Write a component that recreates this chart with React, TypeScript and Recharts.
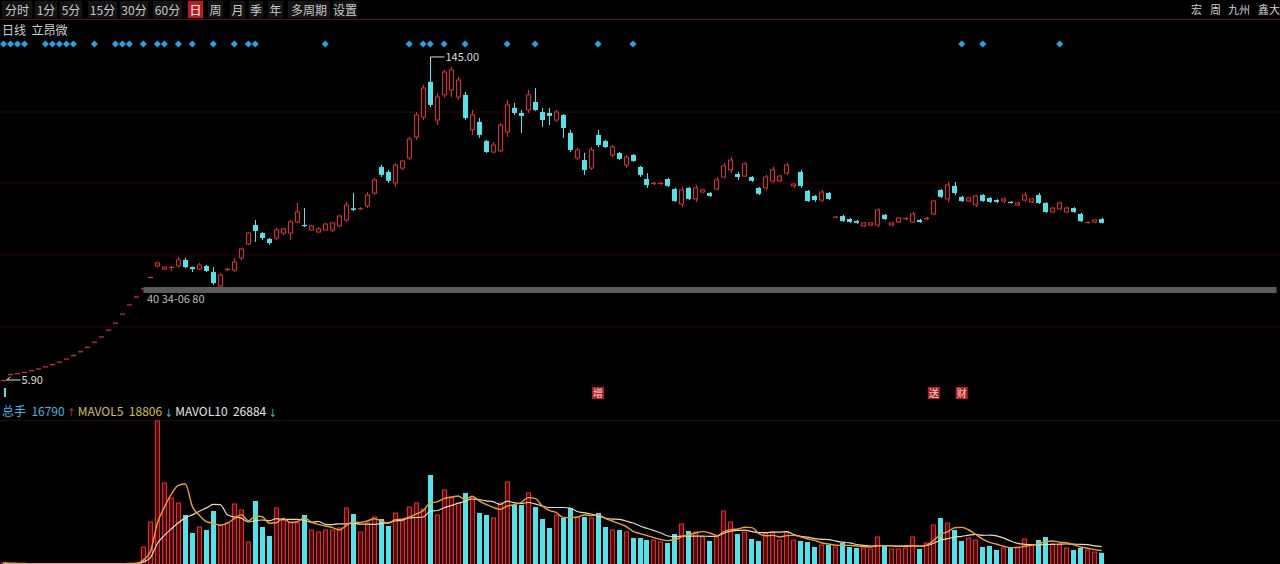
import React from 'react';
import { ComposedChart, Bar, Line, XAxis, YAxis, CartesianGrid, ReferenceLine } from 'recharts';

// one-price limit-up days before the board first opened
const limitUpRun = [
  5.90, 8.50, 8.90, 9.50, 10.20, 11.00, 11.90, 12.90, 14.00, 15.30,
  16.80, 18.50, 20.50, 22.70, 25.00, 28.00, 31.00, 35.00, 39.00, 42.50,
  46.00, 51.00,
];

// regular trading days
const openPx = [
  55.8, 54.4, 55.0, 55.8, 58.4, 55.3, 54.4, 55.8, 53.1, 47.0,
  54.0, 54.0, 59.3, 65.4, 73.7, 70.2, 67.6, 68.0, 70.2, 70.2,
  75.0, 73.7, 71.5, 70.6, 71.5, 71.5, 73.3, 75.9, 81.0, 80.6,
  82.0, 87.7, 99.1, 96.9, 92.1, 98.6, 103.0, 112.2, 120.9, 136.3,
  119.6, 130.6, 132.8, 129.7, 130.6, 115.3, 118.8, 110.4, 105.6, 106.1,
  114.4, 124.9, 122.7, 124.0, 127.5, 123.1, 122.7, 119.6, 121.8, 114.0,
  103.0, 102.1, 98.6, 113.1, 110.4, 104.3, 105.2, 99.9, 104.3, 99.1,
  93.8, 91.6, 91.6, 93.8, 89.4, 82.9, 89.9, 85.1, 88.1, 87.7,
  89.4, 94.7, 97.8, 96.0, 95.1, 94.7, 89.9, 89.9, 92.9, 93.0,
  96.4, 90.8, 96.9, 88.6, 86.4, 84.6, 87.7, 77.0, 77.6, 76.3,
  75.4, 73.3, 73.7, 73.7, 78.1, 73.7, 75.0, 76.3, 75.0, 75.9,
  76.3, 78.5, 89.0, 85.1, 90.8, 86.0, 84.2, 82.5, 86.8, 85.5,
  84.6, 84.2, 83.8, 82.4, 84.6, 83.8, 86.8, 83.3, 79.4, 80.7,
  79.4, 81.1, 78.5, 74.6, 75.0, 76.3,
];
const highPx = [
  57.6, 55.5, 55.8, 59.7, 59.3, 55.5, 57.1, 56.2, 55.3, 52.7,
  55.0, 59.3, 63.6, 70.6, 75.9, 70.6, 68.0, 72.4, 72.4, 75.9,
  83.3, 81.1, 73.7, 72.8, 74.6, 75.0, 78.1, 83.8, 87.7, 81.5,
  88.1, 94.3, 100.0, 97.8, 100.8, 102.1, 112.2, 123.1, 134.9, 145.0,
  131.4, 141.5, 142.8, 138.4, 131.9, 124.0, 120.5, 110.9, 110.0, 118.3,
  128.4, 127.1, 124.0, 132.8, 133.6, 124.9, 124.9, 124.0, 122.2, 115.3,
  107.4, 105.2, 107.8, 115.3, 110.9, 108.7, 105.6, 104.3, 104.7, 99.5,
  96.4, 92.5, 92.5, 94.3, 89.9, 90.3, 90.3, 91.2, 89.4, 88.1,
  94.7, 100.8, 103.4, 96.9, 101.3, 95.1, 90.3, 95.6, 99.1, 95.6,
  100.8, 92.0, 97.8, 89.0, 86.8, 89.0, 88.1, 77.6, 78.1, 76.8,
  75.9, 74.9, 75.0, 81.1, 78.5, 75.0, 77.2, 77.2, 79.4, 76.3,
  77.2, 84.6, 89.4, 92.5, 92.5, 86.4, 85.9, 86.8, 87.2, 85.9,
  85.0, 85.5, 84.2, 83.8, 88.1, 85.5, 87.7, 83.7, 81.6, 83.8,
  81.6, 81.5, 79.0, 75.2, 76.1, 76.8,
];
const lowPx = [
  55.3, 54.0, 53.6, 55.0, 54.8, 53.1, 54.0, 53.1, 47.5, 46.6,
  53.6, 53.1, 58.4, 65.0, 66.3, 67.1, 65.0, 67.1, 69.3, 67.1,
  74.6, 72.8, 71.5, 70.6, 71.5, 70.6, 72.8, 75.0, 79.8, 80.3,
  81.1, 86.8, 94.7, 92.1, 90.3, 97.8, 102.1, 110.9, 119.6, 125.3,
  117.4, 129.3, 129.7, 128.4, 119.6, 113.1, 111.8, 105.2, 105.2, 105.6,
  112.2, 121.8, 113.9, 122.7, 123.6, 116.6, 117.4, 118.8, 111.8, 105.6,
  102.1, 95.6, 97.8, 107.8, 107.4, 103.4, 102.1, 98.6, 101.3, 94.7,
  89.9, 91.2, 91.2, 90.3, 83.8, 81.6, 84.6, 83.8, 87.7, 85.9,
  89.0, 94.3, 96.4, 93.4, 94.7, 92.5, 86.8, 89.0, 92.1, 92.5,
  95.6, 89.9, 89.9, 83.8, 83.8, 83.8, 84.6, 76.8, 75.0, 74.6,
  74.2, 72.8, 73.3, 72.8, 75.9, 73.3, 74.6, 75.9, 74.6, 74.6,
  75.9, 78.1, 85.5, 83.8, 86.8, 83.8, 83.8, 81.6, 83.8, 83.3,
  83.3, 83.3, 83.1, 82.0, 83.8, 83.3, 82.9, 79.0, 79.0, 80.3,
  79.0, 79.0, 75.0, 74.4, 74.6, 74.4,
];
const closePx = [
  57.1, 55.3, 55.4, 58.4, 55.3, 54.4, 56.2, 53.6, 48.3, 51.8,
  54.5, 57.5, 63.2, 70.2, 71.1, 68.0, 65.8, 71.5, 72.0, 75.0,
  79.4, 73.3, 73.3, 72.0, 74.1, 74.6, 77.6, 82.4, 80.3, 81.1,
  86.8, 93.4, 95.6, 93.0, 99.9, 101.7, 111.3, 121.8, 133.6, 126.2,
  129.7, 140.6, 141.5, 137.1, 120.5, 121.8, 113.1, 105.6, 108.7, 117.4,
  126.2, 122.7, 121.4, 130.6, 124.0, 119.6, 121.4, 123.1, 116.1, 106.5,
  106.5, 97.8, 106.5, 108.7, 107.8, 107.8, 102.6, 103.4, 101.7, 95.6,
  91.2, 92.1, 92.1, 90.8, 84.2, 89.0, 85.1, 89.9, 89.0, 86.4,
  93.4, 99.5, 102.1, 94.7, 100.4, 93.0, 87.3, 94.7, 97.8, 95.1,
  99.9, 91.6, 90.8, 84.2, 84.6, 88.1, 85.1, 77.4, 75.4, 75.0,
  74.6, 74.6, 74.6, 80.3, 76.3, 74.6, 76.8, 76.8, 78.5, 75.0,
  76.8, 84.2, 86.0, 91.2, 87.7, 84.2, 85.5, 86.4, 84.2, 83.8,
  83.8, 85.1, 83.3, 83.3, 86.8, 85.1, 83.3, 79.4, 81.1, 83.3,
  81.1, 79.4, 75.4, 75.0, 75.9, 74.6,
];

// volume in 手, one per day (limit-up run first)
const volumes = [
  1500, 420, 380, 350, 330, 310, 300, 290, 300, 310,
  320, 350, 380, 420, 460, 520, 600, 720, 900, 1500,
  25500, 63000,
  214500, 121500, 99000, 91500, 73500, 46500, 55500, 51000, 79500, 58500,
  61500, 90000, 81000, 33000, 94500, 55500, 42000, 84000, 66000, 63000,
  61500, 73500, 51000, 48000, 51000, 51000, 54000, 84000, 75000, 48000,
  61500, 70500, 67500, 57000, 76500, 64500, 85500, 91500, 82500, 133500,
  73500, 111000, 100500, 91500, 106500, 99000, 76500, 73500, 69000, 91500,
  123000, 88500, 88500, 106500, 85500, 67500, 54000, 73500, 69000, 84000,
  70500, 70500, 69000, 76500, 55500, 51000, 51000, 48000, 39000, 39000,
  36000, 36000, 33000, 31500, 45000, 60000, 49500, 48000, 40500, 34500,
  40500, 79500, 63000, 45000, 48000, 37500, 34500, 46500, 48000, 36000,
  48000, 36000, 34500, 33000, 25500, 28500, 28500, 25500, 31500, 25500,
  24000, 24000, 22500, 40500, 27000, 22500, 22500, 24000, 40500, 22500,
  31500, 58500, 69000, 61500, 51000, 34500, 39000, 36000, 25500, 27000,
  21000, 24000, 25500, 25500, 37500, 28500, 36000, 40500, 30000, 28500,
  24000, 21000, 24000, 21000, 18000, 16790,
];

const signalDays = [0, 1, 2, 3, 6, 7, 8, 9, 10, 13, 16, 17, 18, 20, 22, 23, 25, 27, 30, 33, 35, 36, 46, 58, 60, 61, 63, 66, 72, 76, 85, 90, 137, 140, 151];
const eventDays = [85, 133, 137];
const eventTags = ['增', '送', '财'];

const toolbarLabels = ['分时', '1分', '5分', '15分', '30分', '60分', '日', '周', '月', '季', '年', '多周期', '设置'];
const toolbarLefts = [2, 35, 60, 88, 120, 153, 188, 208, 230, 249, 268, 288, 333];
const toolbarWidths = [30, 22, 22, 29, 28, 29, 15, 15, 15, 14, 15, 42, 24];
const activeTool = '日';
const cornerLabels = ['宏', '周', '九州', '鑫大'];
const cornerLefts = [1191, 1210, 1228, 1258];

const volLegend = { vol: '16790', ma5: '18806', ma10: '26884' };
const costLabel = '40 34-06 80';
const costLevel = 45.3;

const SLOTS = 183;
const FLAG_LEVEL = 152.9;
const EVENT_LEVEL = 0.2;
const RED = '#e8282c';
const CYAN = '#4ee4ee';
const FONT = '"Noto Sans CJK SC", "Noto Sans", sans-serif';

const allOpen = [...limitUpRun, ...openPx];
const allHigh = [...limitUpRun, ...highPx];
const allLow = [...limitUpRun, ...lowPx];
const allClose = [...limitUpRun, ...closePx];
const peakHigh = Math.max(...allHigh);
const bottomLow = Math.min(...allLow);

const avgVol = (i: number, n: number) => {
  const part = volumes.slice(Math.max(0, i - n + 1), i + 1);
  return part.reduce((s, v) => s + v, 0) / part.length;
};

const rows = Array.from({ length: SLOTS }, (_, i) => {
  if (i >= allOpen.length) return { day: i };
  const prev = i > 0 ? allClose[i - 1] : allOpen[i];
  const up = allClose[i] > allOpen[i] || (allClose[i] === allOpen[i] && allClose[i] >= prev);
  const ev = eventDays.indexOf(i);
  return {
    day: i,
    open: allOpen[i],
    high: allHigh[i],
    low: allLow[i],
    close: allClose[i],
    up,
    vol: volumes[i],
    ma5: avgVol(i, 5),
    ma10: avgVol(i, 10),
    flag: signalDays.includes(i) ? FLAG_LEVEL : null,
    event: ev >= 0 ? EVENT_LEVEL : null,
    tag: ev >= 0 ? eventTags[ev] : null,
  };
});

const Candle = (props: any) => {
  const { x, y, width, height, payload } = props;
  if (!payload || payload.high == null) return <g />;
  const { open, high, low, close, up } = payload;
  const toY = (p: number) => y + (height * (high - p)) / high;
  const cx = Math.round(x + width / 2) + 0.5;
  const color = up ? RED : CYAN;
  const yH = toY(high);
  const yL = toY(low);
  let top = toY(Math.max(open, close));
  let bot = toY(Math.min(open, close));
  const flat = bot - top < 1.5;
  if (flat) bot = top + 1.2;
  const left = Math.round(x) + 0.5;
  const w = Math.max(1, Math.round(width) - 1);
  return (
    <g>
      {up && !flat ? (
        <>
          <line x1={cx} x2={cx} y1={yH} y2={top} stroke={color} />
          <line x1={cx} x2={cx} y1={bot} y2={yL} stroke={color} />
          <rect x={left} y={top} width={w} height={bot - top} fill="#000" stroke={color} />
        </>
      ) : (
        <>
          <line x1={cx} x2={cx} y1={yH} y2={yL} stroke={color} />
          <rect x={left - 0.5} y={top} width={w + 1} height={bot - top} fill={color} />
        </>
      )}
      {high === peakHigh && (
        <>
          <line x1={cx} x2={cx + 14} y1={yH - 5} y2={yH - 5} stroke="#d8d8d8" />
          <line x1={cx} x2={cx} y1={yH - 5} y2={yH} stroke="#d8d8d8" />
          <text x={cx + 15} y={yH - 1} fontSize={11} fill="#dcdcdc">{high.toFixed(2)}</text>
        </>
      )}
      {low === bottomLow && (
        <>
          <line x1={cx + 2} x2={cx + 16} y1={yL} y2={yL} stroke="#e8e0c8" />
          <line x1={cx + 2} x2={cx + 6} y1={yL} y2={yL - 3} stroke="#e8e0c8" />
          <text x={cx + 17} y={yL + 4} fontSize={11} fill="#dcdcdc">{low.toFixed(2)}</text>
        </>
      )}
    </g>
  );
};

const VolBar = (props: any) => {
  const { x, y, width, height, payload } = props;
  if (!payload || payload.vol == null || height < 0.5) return <g />;
  const left = Math.round(x) + 0.5;
  const w = Math.max(1, Math.round(width) - 1);
  if (payload.up) {
    return <rect x={left} y={y} width={w} height={height + 2} fill="#5a0707" stroke={RED} />;
  }
  return <rect x={left - 0.5} y={y} width={w + 1} height={height + 2} fill={CYAN} />;
};

const Diamond = (props: any) => {
  const { cx, cy, value, index } = props;
  if (value == null || cx == null || cy == null) return <g key={`d${index}`} />;
  return (
    <path key={`d${index}`} d={`M${cx},${cy - 3.5} L${cx + 3.5},${cy} L${cx},${cy + 3.5} L${cx - 3.5},${cy} Z`} fill="#1ea6e8" />
  );
};

const EventTag = (props: any) => {
  const { cx, cy, value, index, payload } = props;
  if (value == null || cx == null || cy == null) return <g key={`e${index}`} />;
  return (
    <g key={`e${index}`}>
      <rect x={cx - 6} y={cy - 6} width={12} height={12} fill="#b41c1c" />
      <text x={cx} y={cy + 4} fontSize={10} textAnchor="middle" fill="#ffd6d6">{payload.tag}</text>
    </g>
  );
};

const App: React.FC = () => {
  return (
    <div style={{ position: 'fixed', left: 0, top: 0, width: 1280, height: 564, background: '#000', overflow: 'hidden', fontFamily: FONT, color: '#cfcfcf' }}>
      {/* toolbar */}
      {toolbarLabels.map((t, i) => (
        <div
          key={t}
          style={{
            position: 'absolute', left: toolbarLefts[i], top: 1, width: toolbarWidths[i], height: 17,
            lineHeight: '17px', fontSize: 12, textAlign: 'center', whiteSpace: 'nowrap',
            background: t === activeTool ? '#c01a1a' : '#141414',
            color: t === activeTool ? '#fff' : '#c8c8c8',
          }}
        >
          {t}
        </div>
      ))}
      {cornerLabels.map((t, i) => (
        <div key={t} style={{ position: 'absolute', left: cornerLefts[i], top: 1, fontSize: 11, lineHeight: '17px', color: '#d0d0d0', whiteSpace: 'nowrap' }}>
          {t}
        </div>
      ))}
      <div style={{ position: 'absolute', left: 0, top: 19, width: 1280, height: 1, background: '#5a1212' }} />
      <div style={{ position: 'absolute', left: 2, top: 22, fontSize: 12, lineHeight: '15px', color: '#d0d0d0', whiteSpace: 'pre' }}>
        {'日线  立昂微'}
      </div>

      {/* price panel */}
      <div style={{ position: 'absolute', left: 0, top: 0 }}>
        <ComposedChart width={1280} height={420} data={rows} margin={{ top: 0, right: 0, bottom: 0, left: 0 }}>
          <CartesianGrid vertical={false} horizontalPoints={[112, 183, 255, 327]} stroke="#2c0909" />
          <XAxis dataKey="day" type="category" hide />
          <YAxis type="number" domain={[-11.6, 172.1]} hide allowDataOverflow />
          <ReferenceLine
            segment={[{ x: 20, y: costLevel }, { x: SLOTS - 1, y: costLevel }]}
            stroke="#5c5c5c"
            strokeWidth={6}
          />
          <Bar dataKey="high" barSize={5} shape={<Candle />} isAnimationActive={false} />
          <Line dataKey="flag" stroke="none" dot={(p: any) => <Diamond {...p} />} activeDot={false} isAnimationActive={false} />
          <Line dataKey="event" stroke="none" dot={(p: any) => <EventTag {...p} />} activeDot={false} isAnimationActive={false} />
        </ComposedChart>
      </div>
      <div style={{ position: 'absolute', left: 147, top: 292, fontSize: 11, lineHeight: '13px', color: '#bdbdbd', whiteSpace: 'pre' }}>
        {costLabel}
      </div>
      <div style={{ position: 'absolute', left: 4, top: 388, width: 2, height: 9, background: CYAN }} />

      {/* volume legend */}
      <div style={{ position: 'absolute', left: 2, top: 403, fontSize: 12, lineHeight: '15px', whiteSpace: 'pre' }}>
        <span style={{ color: '#35b8e6' }}>{`总手  ${volLegend.vol}`}</span>
        <span style={{ color: RED, fontSize: 9 }}>{' ↑ '}</span>
        <span style={{ color: '#d6c22c' }}>{`MAVOL5  ${volLegend.ma5}`}</span>
        <span style={{ color: CYAN, fontSize: 9 }}>{' ↓ '}</span>
        <span style={{ color: '#e6e6e6' }}>{`MAVOL10  ${volLegend.ma10}`}</span>
        <span style={{ color: CYAN, fontSize: 9 }}>{' ↓'}</span>
      </div>
      <div style={{ position: 'absolute', left: 0, top: 420, width: 1280, height: 1, background: '#2a0808' }} />

      {/* volume panel */}
      <div style={{ position: 'absolute', left: 0, top: 420 }}>
        <ComposedChart width={1280} height={144} data={rows} margin={{ top: 0, right: 0, bottom: 0, left: 0 }}>
          <XAxis dataKey="day" type="category" hide />
          <YAxis type="number" domain={[0, 216000]} hide allowDataOverflow />
          <Bar dataKey="vol" barSize={5} shape={<VolBar />} isAnimationActive={false} />
          <Line dataKey="ma10" type="monotone" stroke="#e8dcb4" strokeWidth={1.2} dot={false} activeDot={false} isAnimationActive={false} />
          <Line dataKey="ma5" type="monotone" stroke="#f0a024" strokeWidth={1.4} dot={false} activeDot={false} isAnimationActive={false} />
        </ComposedChart>
      </div>
    </div>
  );
};

export default App;
